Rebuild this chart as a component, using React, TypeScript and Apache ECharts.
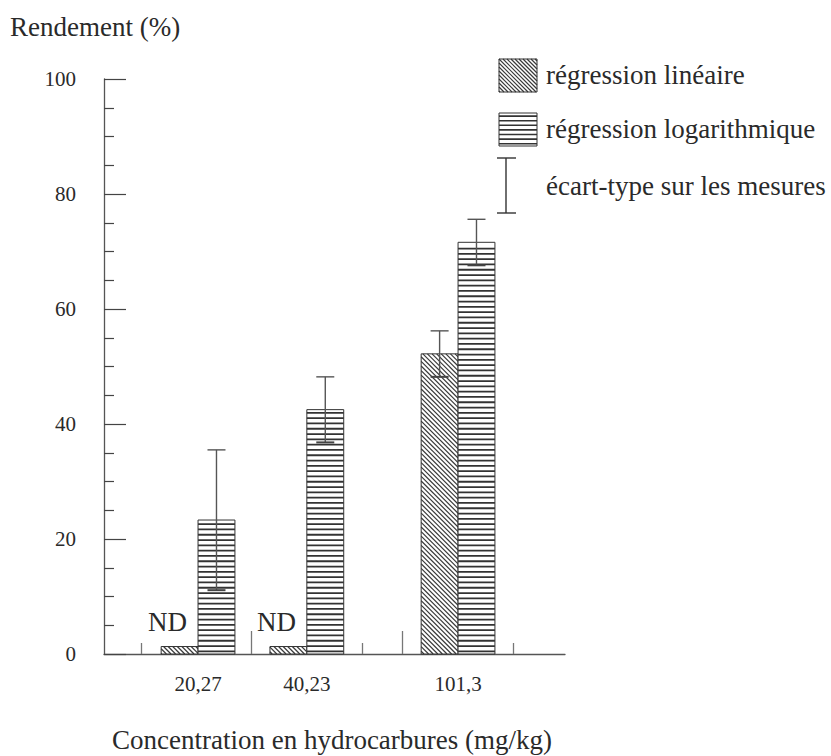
import React, { useEffect, useRef } from "react";
import * as echarts from "echarts";

// ---------- data ----------
const categories = ["20,27", "40,23", "101,3"];
const linearValues = [1.3, 1.3, 52.2];
const linearErrors = [0, 0, 4.0];
const linearNotes = ["ND", "ND", ""];
const logValues = [23.3, 42.5, 71.6];
const logErrors = [12.2, 5.7, 4.0];
const yTickValues = [0, 20, 40, 60, 80, 100];

const legendLabels = ["régression linéaire", "régression logarithmique", "écart-type sur les mesures"];
const yTitle = "Rendement (%)";
const xTitle = "Concentration en hydrocarbures (mg/kg)";

// ---------- layout (positions on the x axis, in bar-width units) ----------
const X_MAX = 12.5;
const GROUP_SLOTS = [2.55, 5.5, 9.6];
const TALL_TICKS = [4, 8.1];
const MID_TICKS = [1, 7, 11.1];
const SHORT_TICKS = [2, 5];

const FONT = "'Liberation Serif', 'Times New Roman', serif";
const INK = "#2a2a2a";
const AXIS = "#555";

type Seg = any;

function diagHatch(L: number, T: number, R: number, B: number, step: number, color: string, w: number): Seg[] {
  const out: Seg[] = [];
  const cStart = Math.floor((T - R) / step) * step;
  for (let c = cStart; c <= B - L; c += step) {
    const x1 = Math.max(L, T - c);
    const x2 = Math.min(R, B - c);
    if (x2 - x1 > 0.4) {
      out.push({
        type: "line",
        shape: { x1, y1: x1 + c, x2, y2: x2 + c },
        style: { stroke: color, lineWidth: w },
        silent: true,
      });
    }
  }
  return out;
}

function horizHatch(L: number, T: number, R: number, B: number, step: number, color: string, w: number): Seg[] {
  const out: Seg[] = [];
  for (let y = B - step / 2; y > T + 1; y -= step) {
    out.push({
      type: "line",
      shape: { x1: L, y1: y, x2: R, y2: y },
      style: { stroke: color, lineWidth: w },
      silent: true,
    });
  }
  return out;
}

function makeBarSeries(name: string, values: number[], errors: number[], notes: string[], side: number, kind: string) {
  return {
    type: "custom",
    name,
    xAxisIndex: 0,
    yAxisIndex: 0,
    encode: { x: 0, y: 1 },
    data: GROUP_SLOTS.map((p, i) => [p, values[i], errors[i]]),
    renderItem: (params: any, api: any) => {
      const pos = api.value(0);
      const v = api.value(1);
      const e = api.value(2);
      const left = side < 0 ? pos - 1 : pos;
      const p0 = api.coord([left, 0]);
      const p1 = api.coord([left + 1, v]);
      const L = p0[0], B = p0[1], R = p1[0], T = p1[1];
      const children: Seg[] = [
        { type: "rect", shape: { x: L, y: T, width: R - L, height: B - T }, style: { fill: "#fff" } },
      ];
      if (kind === "diag") children.push(...diagHatch(L, T, R, B, 4.6, "#3a3a3a", 1.2));
      else children.push(...horizHatch(L, T, R, B, 5.3, "#333", 1.8));
      children.push({
        type: "rect",
        shape: { x: L, y: T, width: R - L, height: B - T },
        style: { fill: "none", stroke: "#333", lineWidth: 1 },
      });
      if (e > 0) {
        const cx = (L + R) / 2;
        const yt = api.coord([pos, v + e])[1];
        const yb = api.coord([pos, v - e])[1];
        const st = { stroke: "#555", lineWidth: 1.4 };
        children.push({ type: "line", shape: { x1: cx, y1: yt, x2: cx, y2: yb }, style: st });
        children.push({ type: "line", shape: { x1: cx - 9, y1: yt, x2: cx + 9, y2: yt }, style: st });
        children.push({ type: "line", shape: { x1: cx - 9, y1: yb, x2: cx + 9, y2: yb }, style: { stroke: "#444", lineWidth: 2 } });
      }
      const note = notes[params.dataIndex];
      if (note) {
        children.push({
          type: "text",
          x: (L + R) / 2 - 12,
          y: T - 25,
          style: { text: note, fontSize: 27, fontFamily: FONT, fill: INK, align: "center", verticalAlign: "middle" },
        });
      }
      return { type: "group", children };
    },
  };
}

function legendGraphics(): any[] {
  const g: any[] = [];
  // diagonal square
  const d = { L: 499, T: 59, R: 537, B: 92 };
  g.push({ type: "rect", shape: { x: d.L, y: d.T, width: d.R - d.L, height: d.B - d.T }, style: { fill: "#fff" } });
  diagHatch(d.L, d.T, d.R, d.B, 4, "#3a3a3a", 1.2).forEach((s) => g.push(s));
  g.push({ type: "rect", shape: { x: d.L, y: d.T, width: d.R - d.L, height: d.B - d.T }, style: { fill: "none", stroke: "#333", lineWidth: 1 } });
  // horizontal square
  const h = { L: 499, T: 113, R: 537, B: 146 };
  g.push({ type: "rect", shape: { x: h.L, y: h.T, width: h.R - h.L, height: h.B - h.T }, style: { fill: "#fff" } });
  horizHatch(h.L, h.T, h.R, h.B, 4.6, "#333", 1.6).forEach((s) => g.push(s));
  g.push({ type: "rect", shape: { x: h.L, y: h.T, width: h.R - h.L, height: h.B - h.T }, style: { fill: "none", stroke: "#333", lineWidth: 1 } });
  // error bar symbol
  const es = { stroke: "#333", lineWidth: 1.4 };
  g.push({ type: "line", shape: { x1: 506, y1: 158, x2: 506, y2: 213 }, style: es });
  g.push({ type: "line", shape: { x1: 497, y1: 158, x2: 516, y2: 158 }, style: es });
  g.push({ type: "line", shape: { x1: 497, y1: 213, x2: 516, y2: 213 }, style: es });
  const ys = [75, 129, 186];
  legendLabels.forEach((t, i) => {
    g.push({
      type: "text",
      x: 546,
      y: ys[i],
      style: { text: t, fontSize: 27, fontFamily: FONT, fill: INK, verticalAlign: "middle" },
    });
  });
  return g;
}

export default function App() {
  const ref = useRef<HTMLDivElement>(null);
  useEffect(() => {
    if (!ref.current) return;
    const chart = echarts.init(ref.current, null, { renderer: "svg" });
    const labelOf = (v: number) => {
      const i = GROUP_SLOTS.findIndex((s) => Math.abs(s - v) < 1e-6);
      return i >= 0 ? categories[i] : "";
    };
    const baseX = {
      type: "value",
      position: "bottom",
      min: 0,
      max: X_MAX,
      splitLine: { show: false },
    };
    chart.setOption({
      animation: false,
      backgroundColor: "#fff",
      grid: { left: 104, top: 79, width: 461, height: 575, containLabel: false },
      xAxis: [
        {
          ...baseX,
          axisLine: { show: true, onZero: false, lineStyle: { color: AXIS, width: 1.3 } },
          axisTick: { show: true, inside: true, length: 23, customValues: TALL_TICKS, lineStyle: { color: "#777", width: 1.3 } },
          axisLabel: {
            show: true,
            customValues: GROUP_SLOTS,
            formatter: (v: number) => labelOf(v),
            fontSize: 21,
            fontFamily: FONT,
            color: INK,
            margin: 19,
          },
        },
        {
          ...baseX,
          axisLine: { show: false, onZero: false },
          axisTick: { show: true, inside: true, length: 11, customValues: MID_TICKS, lineStyle: { color: "#777", width: 1.3 } },
          axisLabel: { show: false },
        },
        {
          ...baseX,
          axisLine: { show: false, onZero: false },
          axisTick: { show: true, inside: true, length: 5, customValues: SHORT_TICKS, lineStyle: { color: "#777", width: 1.3 } },
          axisLabel: { show: false },
        },
      ],
      yAxis: {
        type: "value",
        min: yTickValues[0],
        max: yTickValues[yTickValues.length - 1],
        interval: 20,
        axisLine: { show: true, lineStyle: { color: AXIS, width: 1.3 } },
        axisTick: { show: true, inside: true, length: 22, lineStyle: { color: "#444", width: 1.2 } },
        minorTick: { show: true, splitNumber: 4, length: 10, lineStyle: { color: "#444", width: 1.2 } },
        axisLabel: { fontSize: 21, fontFamily: FONT, color: INK, margin: 28 },
        splitLine: { show: false },
        minorSplitLine: { show: false },
      },
      series: [
        makeBarSeries(legendLabels[0], linearValues, linearErrors, linearNotes, -1, "diag"),
        makeBarSeries(legendLabels[1], logValues, logErrors, ["", "", ""], 1, "horiz"),
      ],
      graphic: [
        {
          type: "text",
          x: 10,
          y: 27,
          style: { text: yTitle, fontSize: 27, fontFamily: FONT, fill: INK, verticalAlign: "middle" },
        },
        {
          type: "text",
          x: 332,
          y: 740,
          style: { text: xTitle, fontSize: 27, fontFamily: FONT, fill: INK, align: "center", verticalAlign: "middle" },
        },
        ...legendGraphics(),
      ],
    });
    return () => chart.dispose();
  }, []);
  return <div ref={ref} style={{ position: "fixed", left: 0, top: 0, width: 831, height: 756 }} />;
}
